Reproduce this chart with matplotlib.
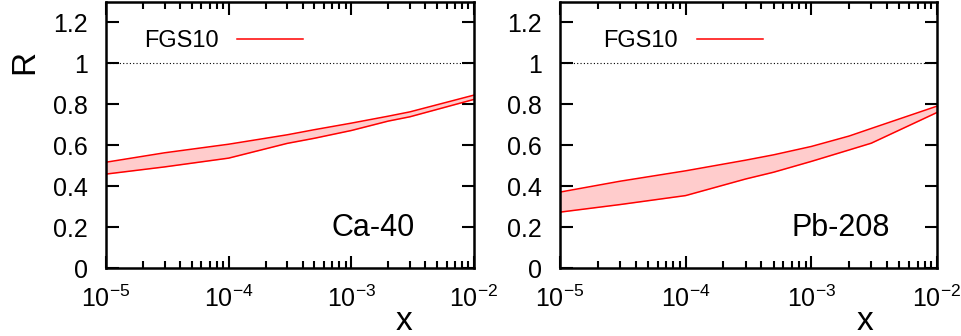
"""Nuclear modification ratio R(x) bands, FGS10, Ca-40 and Pb-208."""
import numpy as np
import matplotlib; matplotlib.use('Agg')
import matplotlib.pyplot as plt
from matplotlib.lines import Line2D
from matplotlib.ticker import LogLocator, FixedLocator, NullLocator

plt.rcParams['font.family'] = ['Liberation Sans', 'DejaVu Sans']
plt.rcParams['mathtext.fontset'] = 'custom'
plt.rcParams['mathtext.rm'] = 'Liberation Sans'
plt.rcParams['mathtext.it'] = 'Liberation Sans'
plt.rcParams['mathtext.default'] = 'regular'

x_vals   = [1e-5, 3e-5, 1e-4, 3e-4, 5e-4, 1e-3, 2e-3, 3e-3, 1e-2]
ca_upper = [0.517, 0.563, 0.605, 0.651, 0.676, 0.708, 0.742, 0.763, 0.845]
ca_lower = [0.459, 0.494, 0.537, 0.609, 0.634, 0.672, 0.718, 0.739, 0.824]
pb_upper = [0.371, 0.424, 0.475, 0.527, 0.553, 0.594, 0.645, 0.682, 0.791]
pb_lower = [0.273, 0.310, 0.354, 0.435, 0.468, 0.521, 0.577, 0.610, 0.760]
panels   = [('Ca-40', ca_upper, ca_lower), ('Pb-208', pb_upper, pb_lower)]
y_ticks  = [0, 0.2, 0.4, 0.6, 0.8, 1, 1.2]
y_labels = ['0', '0.2', '0.4', '0.6', '0.8', '1', '1.2']

fig = plt.figure(figsize=(9.62, 3.36), dpi=100)
W, H = 962, 336
boxes = [(106, 474), (560, 937)]
text_x = [0.84, 0.875]
leg_x  = [0.077, 0.09]
top, bot = 2, 268

for i, ((name, up, lo), (x0, x1)) in enumerate(zip(panels, boxes)):
    ax = fig.add_axes([x0 / W, 1 - bot / H, (x1 - x0) / W, (bot - top) / H])
    ax.fill_between(x_vals, lo, up, color='#ffcccc', lw=0)
    ax.plot(x_vals, up, color='red', lw=1.1)
    ax.plot(x_vals, lo, color='red', lw=1.1)
    ax.axhline(1.0, color='black', lw=0.8, ls=(0, (1, 2)))
    ax.set_xscale('log')
    ax.set_xlim(1e-5, 1e-2)
    ax.set_ylim(0, 1.3)
    ax.xaxis.set_major_locator(LogLocator(base=10, numticks=10))
    ax.xaxis.set_minor_locator(LogLocator(base=10, subs=np.arange(2, 10), numticks=10))
    ax.yaxis.set_major_locator(FixedLocator(y_ticks))
    ax.yaxis.set_minor_locator(NullLocator())
    ax.set_yticklabels(y_labels)
    ax.tick_params(which='both', direction='in', top=True, right=True, width=1.5)
    ax.tick_params(which='major', length=9, labelsize=18, pad=13)
    ax.tick_params(which='minor', length=5)
    for s in ax.spines.values():
        s.set_linewidth(1.8)
    ax.set_xlabel('x', fontsize=24, x=0.81, labelpad=-5)
    ax.text(text_x[i], 0.15, name, transform=ax.transAxes,
            ha='right', va='center', fontsize=22)
    h = Line2D([], [], color='red', lw=1.1)
    ax.legend([h], ['FGS10'], loc='upper left', bbox_to_anchor=(leg_x[i], 0.93),
              frameon=False, markerfirst=False, fontsize=17, handlelength=2.8,
              handletextpad=0.8, borderaxespad=0)
    if i == 0:
        ax.set_ylabel('R', fontsize=24, y=0.775, labelpad=9)

plt.savefig('out.png', dpi=100)
